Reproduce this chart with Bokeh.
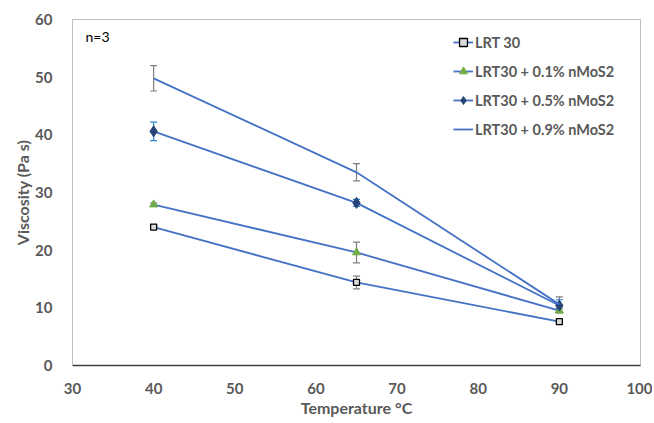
from bokeh.plotting import figure
from bokeh.models import Range1d, FixedTicker, ColumnDataSource, Whisker, TeeHead, Label, Legend, LegendItem
from bokeh.embed import file_html
from bokeh.resources import INLINE

temps = [40, 65, 90]
lrt30 = [24.0, 14.4, 7.6]
lrt30_err = [0.3, 1.1, 0.3]
mos_01 = [27.9, 19.6, 9.5]
mos_01_err = [0.3, 1.8, 0.4]
mos_05 = [40.6, 28.2, 10.4]
mos_05_err = [1.6, 0.6, 1.0]
mos_09 = [49.8, 33.5, 10.6]
mos_09_err = [2.2, 1.5, 1.3]

x_ticks = [30, 40, 50, 60, 70, 80, 90, 100]
y_ticks = [0, 10, 20, 30, 40, 50, 60]

FONT = "Lato"
TXT = "#595959"
LINE = "#4472C4"

p = figure(width=652, height=422, output_backend="svg", toolbar_location=None,
           x_range=Range1d(30, 100), y_range=Range1d(0, 60),
           min_border_left=72, min_border_right=12, min_border_top=19, min_border_bottom=57)
p.xgrid.visible = False
p.ygrid.visible = False
p.outline_line_color = "#BFBFBF"
p.outline_line_width = 1

for ax in (p.xaxis[0], p.yaxis[0]):
    ax.major_tick_line_color = None
    ax.minor_tick_line_color = None
    ax.major_label_text_font = FONT
    ax.major_label_text_font_style = "bold"
    ax.major_label_text_font_size = "15px"
    ax.major_label_text_color = TXT
    ax.axis_label_text_font = FONT
    ax.axis_label_text_font_style = "bold"
    ax.axis_label_text_font_size = "16px"
    ax.axis_label_text_color = TXT

p.xaxis.ticker = FixedTicker(ticks=x_ticks)
p.yaxis.ticker = FixedTicker(ticks=y_ticks)
p.xaxis.axis_label = "Temperature °C"
p.yaxis.axis_label = "Viscosity (Pa s)"
p.xaxis.axis_line_color = "#404040"
p.xaxis.axis_line_width = 1.5
p.yaxis.axis_line_color = "#BFBFBF"
p.xaxis.major_label_standoff = 11
p.yaxis.major_label_standoff = 14
p.xaxis.axis_label_standoff = 1
p.yaxis.axis_label_standoff = 0

def add_err(vals, errs, color):
    src = ColumnDataSource(dict(x=temps, lo=[v - e for v, e in zip(vals, errs)],
                                hi=[v + e for v, e in zip(vals, errs)]))
    w = Whisker(source=src, base="x", lower="lo", upper="hi", dimension="height",
                line_color=color, line_width=1.2,
                upper_head=TeeHead(size=7, line_color=color, line_width=1.2),
                lower_head=TeeHead(size=7, line_color=color, line_width=1.2))
    p.add_layout(w)

add_err(mos_09, mos_09_err, "#7F7F7F")
add_err(mos_05, mos_05_err, "#2E86D8")
add_err(mos_01, mos_01_err, "#7F7F7F")
add_err(lrt30, lrt30_err, "#7F7F7F")

l1 = p.line(temps, lrt30, line_color=LINE, line_width=1.8)
m1 = p.scatter(temps, lrt30, marker="square", size=6, fill_color="#D9D9D9", line_color="black", line_width=1.3)
l2 = p.line(temps, mos_01, line_color=LINE, line_width=1.8)
m2 = p.scatter(temps, mos_01, marker="triangle", size=8, fill_color="#70AD47", line_color="#70AD47")
l3 = p.line(temps, mos_05, line_color=LINE, line_width=1.8)
m3 = p.scatter(temps, mos_05, marker="diamond", size=11, fill_color="#264478", line_color="#264478")
l4 = p.line(temps, mos_09, line_color=LINE, line_width=1.8)

legend = Legend(items=[
    LegendItem(label="LRT 30", renderers=[l1, m1]),
    LegendItem(label="LRT30 + 0.1% nMoS2", renderers=[l2, m2]),
    LegendItem(label="LRT30 + 0.5% nMoS2", renderers=[l3, m3]),
    LegendItem(label="LRT30 + 0.9% nMoS2", renderers=[l4]),
], location=(381, 226))
legend.border_line_color = None
legend.background_fill_alpha = 0
legend.padding = 0
legend.margin = 0
legend.label_text_font = FONT
legend.label_text_font_style = "bold"
legend.label_text_font_size = "14.5px"
legend.label_text_color = TXT
legend.glyph_width = 20
legend.glyph_height = 20
legend.spacing = 9
legend.label_standoff = 2
p.add_layout(legend)

p.add_layout(Label(x=31.6, y=55.6, text="n=3", text_font=FONT, text_font_size="14px",
                   text_color="black"))

open("out.html", "w").write(file_html(p, INLINE))
